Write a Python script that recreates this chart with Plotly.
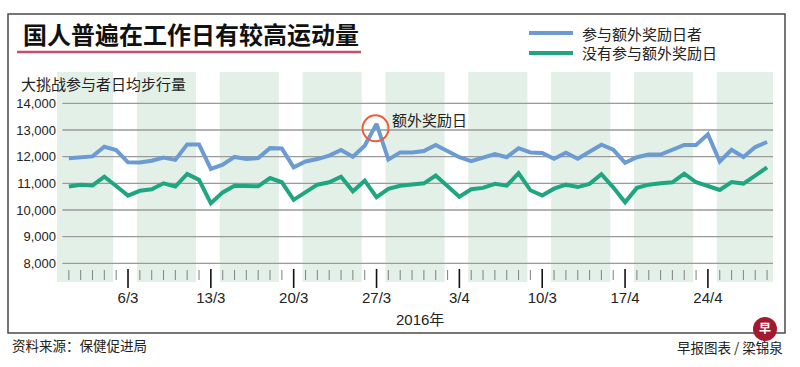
import pandas as pd
import plotly.graph_objects as go

# ---------------- data ----------------
dates = pd.date_range("2016-03-01", "2016-04-29", freq="D")

bonus_participants = [
    11940, 11980, 12010, 12370, 12250, 11790, 11780, 11850, 11970, 11880,
    12460, 12460, 11540, 11700, 11990, 11910, 11950, 12320, 12310, 11600,
    11820, 11910, 12040, 12250, 12000, 12410, 13230, 11890, 12160, 12160,
    12210, 12440, 12220, 11980, 11830, 11950, 12100, 11980, 12320, 12160,
    12140, 11920, 12150, 11920, 12190, 12450, 12260, 11770, 11980, 12080,
    12080, 12270, 12440, 12440, 12840, 11820, 12260, 11990, 12360, 12550,
]
no_bonus = [
    10880, 10950, 10920, 11250, 10900, 10540, 10720, 10780, 11000, 10880,
    11350, 11130, 10250, 10660, 10910, 10900, 10890, 11200, 11040, 10380,
    10660, 10950, 11040, 11250, 10700, 11100, 10480, 10790, 10910, 10950,
    11000, 11290, 10880, 10500, 10780, 10830, 10980, 10910, 11380, 10740,
    10540, 10800, 10950, 10860, 10980, 11340, 10850, 10290, 10830, 10950,
    11000, 11040, 11360, 11040, 10900, 10750, 11050, 10990, 11290, 11600,
]

tick_dates = ["2016-03-06", "2016-03-13", "2016-03-20", "2016-03-27",
              "2016-04-03", "2016-04-10", "2016-04-17", "2016-04-24"]
tick_labels = ["6/3", "13/3", "20/3", "27/3", "3/4", "10/3", "17/4", "24/4"]
y_ticks = [8000, 9000, 10000, 11000, 12000, 13000, 14000]

series_names = ["参与额外奖励日者", "没有参与额外奖励日"]
title_text = "国人普遍在工作日有较高运动量"
subtitle_text = "大挑战参与者日均步行量"
callout_text = "额外奖励日"
callout_date = "2016-03-27"
year_text = "2016年"
source_text = "资料来源：保健促进局"
credit_text = "早报图表 / 梁锦泉"

# ---------------- style ----------------
W, H = 800, 367
ML, MR, MT, MB = 57, 27, 72, 77
PW, PH = W - ML - MR, H - MT - MB
BLUE = "#6b9bd2"
GREEN = "#1fa680"
BAND = "#e3f0e7"
GRID = "#9a9a9a"
TXT = "#222222"
FONT = "Liberation Sans, Arial, Noto Sans CJK SC"
CJK = "Noto Sans CJK SC, Liberation Sans"

x_start = pd.Timestamp("2016-02-29")
x_end = dates[-1] + pd.Timedelta(hours=12)
y_min, y_max = 7000, 15175


def px(xp):
    return (xp - ML) / PW


def py(yp):
    return (MT + PH - yp) / PH


fig = go.Figure()
fig.add_trace(go.Scatter(x=dates, y=bonus_participants, mode="lines",
                         name=series_names[0],
                         line=dict(color=BLUE, width=4), showlegend=False))
fig.add_trace(go.Scatter(x=dates, y=no_bonus, mode="lines",
                         name=series_names[1],
                         line=dict(color=GREEN, width=4), showlegend=False))

shapes = []
# weekday bands (Mon -> Sat)
for mon in pd.date_range(x_start, dates[-1], freq="W-MON"):
    shapes.append(dict(type="rect", xref="x", yref="y", layer="below",
                       x0=mon - pd.Timedelta(hours=6),
                       x1=mon + pd.Timedelta(days=5) - pd.Timedelta(hours=6),
                       y0=7300, y1=y_max, fillcolor=BAND, line_width=0))
# gridlines
for v in y_ticks:
    shapes.append(dict(type="line", xref="x", yref="y", layer="below",
                       x0=x_start + pd.Timedelta(hours=11), x1=x_end,
                       y0=v, y1=v, line=dict(color=GRID, width=1.3)))
# minor day ticks and major week ticks
major = set(pd.to_datetime(tick_dates))
for d in dates:
    if d in major:
        shapes.append(dict(type="line", xref="x", yref="y", x0=d, x1=d,
                           y0=7075, y1=7790, line=dict(color="#111", width=1.6)))
    else:
        shapes.append(dict(type="line", xref="x", yref="y", x0=d, x1=d,
                           y0=7375, y1=7750, line=dict(color="#8a8a8a", width=1.1)))

# callout circle around the bonus-day peak
peak_val = bonus_participants[list(dates).index(pd.Timestamp(callout_date))]
shapes.append(dict(type="circle", xref="x", yref="y",
                   xsizemode="pixel", ysizemode="pixel",
                   xanchor=callout_date, yanchor=peak_val,
                   x0=-14, x1=12, y0=-17.5, y1=8.5,
                   line=dict(color="#e8603c", width=2)))

# frame, title underline, legend lines, logo (paper coords)
shapes.append(dict(type="rect", xref="paper", yref="paper",
                   x0=px(8), x1=px(785), y0=py(333), y1=py(14),
                   line=dict(color="#4a4a4a", width=1.5)))
shapes.append(dict(type="line", xref="paper", yref="paper",
                   x0=px(17), x1=px(361), y0=py(52), y1=py(52),
                   line=dict(color="#c4506d", width=2.5)))
shapes.append(dict(type="line", xref="paper", yref="paper",
                   x0=px(529), x1=px(573), y0=py(33), y1=py(33),
                   line=dict(color=BLUE, width=4)))
shapes.append(dict(type="line", xref="paper", yref="paper",
                   x0=px(529), x1=px(573), y0=py(53), y1=py(53),
                   line=dict(color=GREEN, width=4)))
shapes.append(dict(type="circle", xref="paper", yref="paper",
                   x0=px(753), x1=px(777), y0=py(341), y1=py(317),
                   fillcolor="#a3192e", line_width=0))

annotations = [
    dict(text=title_text, xref="paper", yref="paper", x=px(21), y=py(34),
         xanchor="left", yanchor="middle", showarrow=False,
         font=dict(family=CJK, size=24, color="#111", weight="bold")),
    dict(text=subtitle_text, xref="paper", yref="paper", x=px(19), y=py(83),
         xanchor="left", yanchor="middle", showarrow=False,
         font=dict(family=CJK, size=15, color=TXT)),
    dict(text=series_names[0], xref="paper", yref="paper", x=px(580), y=py(33),
         xanchor="left", yanchor="middle", showarrow=False,
         font=dict(family=CJK, size=15, color=TXT)),
    dict(text=series_names[1], xref="paper", yref="paper", x=px(580), y=py(53),
         xanchor="left", yanchor="middle", showarrow=False,
         font=dict(family=CJK, size=15, color=TXT)),
    dict(text=callout_text, xref="paper", yref="paper", x=px(390), y=py(119),
         xanchor="left", yanchor="middle", showarrow=False,
         font=dict(family=CJK, size=15, color=TXT)),
    dict(text=year_text, xref="paper", yref="paper", x=px(420), y=py(319),
         xanchor="center", yanchor="middle", showarrow=False,
         font=dict(family=FONT, size=15, color=TXT)),
    dict(text=source_text, xref="paper", yref="paper", x=px(10), y=py(345),
         xanchor="left", yanchor="middle", showarrow=False,
         font=dict(family=CJK, size=13.5, color=TXT)),
    dict(text=credit_text, xref="paper", yref="paper", x=px(785), y=py(347),
         xanchor="right", yanchor="middle", showarrow=False,
         font=dict(family=CJK, size=13.5, color=TXT)),
    dict(text="早", xref="paper", yref="paper", x=px(765), y=py(327),
         xanchor="center", yanchor="middle", showarrow=False,
         font=dict(family=CJK, size=12, color="white", weight="bold")),
]

fig.update_layout(
    width=W, height=H,
    margin=dict(l=ML, r=MR, t=MT, b=MB),
    paper_bgcolor="white", plot_bgcolor="white",
    shapes=shapes, annotations=annotations,
    showlegend=False,
    xaxis=dict(range=[x_start, x_end], tickmode="array",
               tickvals=tick_dates, ticktext=tick_labels,
               showgrid=False, zeroline=False, showline=False, ticks="",
               ticklabelstandoff=-3,
               tickfont=dict(family=FONT, size=15, color=TXT)),
    yaxis=dict(range=[y_min, y_max], tickmode="array", tickvals=y_ticks,
               tickformat=",", showgrid=False, zeroline=False, showline=False,
               ticks="", tickfont=dict(family=FONT, size=13, color=TXT)),
)

fig.write_html("out.html",
               config={"displayModeBar": False},
               post_script="document.body.style.margin='0';"
                           "document.body.style.overflow='hidden';")
